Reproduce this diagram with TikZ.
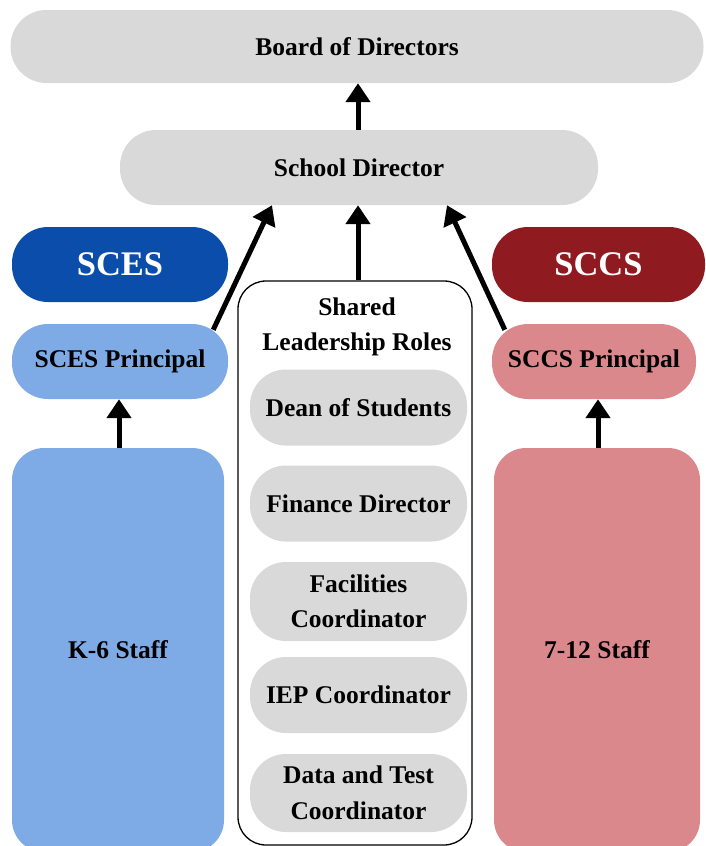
\documentclass[tikz,border=0pt]{standalone}
\usepackage{fontspec}
\setmainfont{Liberation Serif}
\usetikzlibrary{arrows.meta}
\definecolor{pillgray}{HTML}{D9D9D9}
\definecolor{scesblue}{HTML}{0B4DAA}
\definecolor{lightblue}{HTML}{7EAAE6}
\definecolor{sccsred}{HTML}{8F1A1F}
\definecolor{lightred}{HTML}{DB888C}
\begin{document}
\begin{tikzpicture}[x=1pt,y=-1pt,
  pill/.style={rectangle, rounded corners=36pt, inner sep=0pt, align=center,
    font=\bfseries\fontsize{25.5}{35.5}\selectfont},
  graypill/.style={pill, fill=pillgray, minimum width=217pt, minimum height=76pt},
  bigtag/.style={pill, text=white, font=\bfseries\fontsize{34.5}{38}\selectfont, minimum height=75pt},
  arr/.style={line width=5pt, -{Triangle[width=24pt,length=19pt]}}
]
\clip (0,0) rectangle (705,846);
\node[pill, fill=pillgray, minimum width=693pt, minimum height=73pt] (board) at (357,46.5) {Board of Directors};
\node[pill, fill=pillgray, minimum width=478pt, minimum height=75pt] (sd) at (359,167.5) {School Director};
\node[bigtag, fill=scesblue, minimum width=216pt] (sces) at (120,264.5) {SCES};
\node[pill, fill=lightblue, minimum width=216pt, minimum height=75pt] (scesp) at (120,361.5) {SCES Principal};
\node[pill, fill=lightblue, rounded corners=32pt, minimum width=212pt, minimum height=404pt] (k6) at (118,650) {K-6 Staff};
\node[bigtag, fill=sccsred, minimum width=213pt] (sccs) at (598.5,264.5) {SCCS};
\node[pill, fill=lightred, minimum width=204pt, minimum height=75pt] (sccsp) at (594,361.5) {SCCS Principal};
\node[pill, fill=lightred, rounded corners=32pt, minimum width=206pt, minimum height=404pt] (s712) at (597,650) {7-12 Staff};
\node[draw=black, line width=1.3pt, fill=white, rectangle, rounded corners=28pt, minimum width=234pt, minimum height=564pt] (shared) at (355,563) {};
\node[pill, anchor=center] (sharedlabel) at (357,327) {Shared\\Leadership Roles};
\node[graypill] (dean) at (358.5,407.5) {Dean of Students};
\node[graypill] (fin) at (358.5,503.5) {Finance Director};
\node[graypill, minimum height=79pt] (fac) at (358.5,601.5) {Facilities\\Coordinator};
\node[graypill] (iep) at (358.5,695) {IEP Coordinator};
\node[graypill, minimum height=78pt] (data) at (358.5,793) {Data and Test\\Coordinator};
\draw[arr] (sd.north -| 358,0) -- (board.south -| 358,0);
\draw[arr] (shared.north -| 358,0) -- (sd.south -| 358,0);
\draw[arr] ([xshift=-15pt,yshift=-6pt]scesp.north east) -- ([xshift=-87pt]sd.south);
\draw[arr] ([xshift=13pt,yshift=-6pt]sccsp.north west) -- ([xshift=88pt]sd.south);
\draw[arr] (k6.north -| 119,0) -- (scesp.south -| 119,0);
\draw[arr] (s712.north -| 598,0) -- (sccsp.south -| 598,0);
\end{tikzpicture}
\end{document}
